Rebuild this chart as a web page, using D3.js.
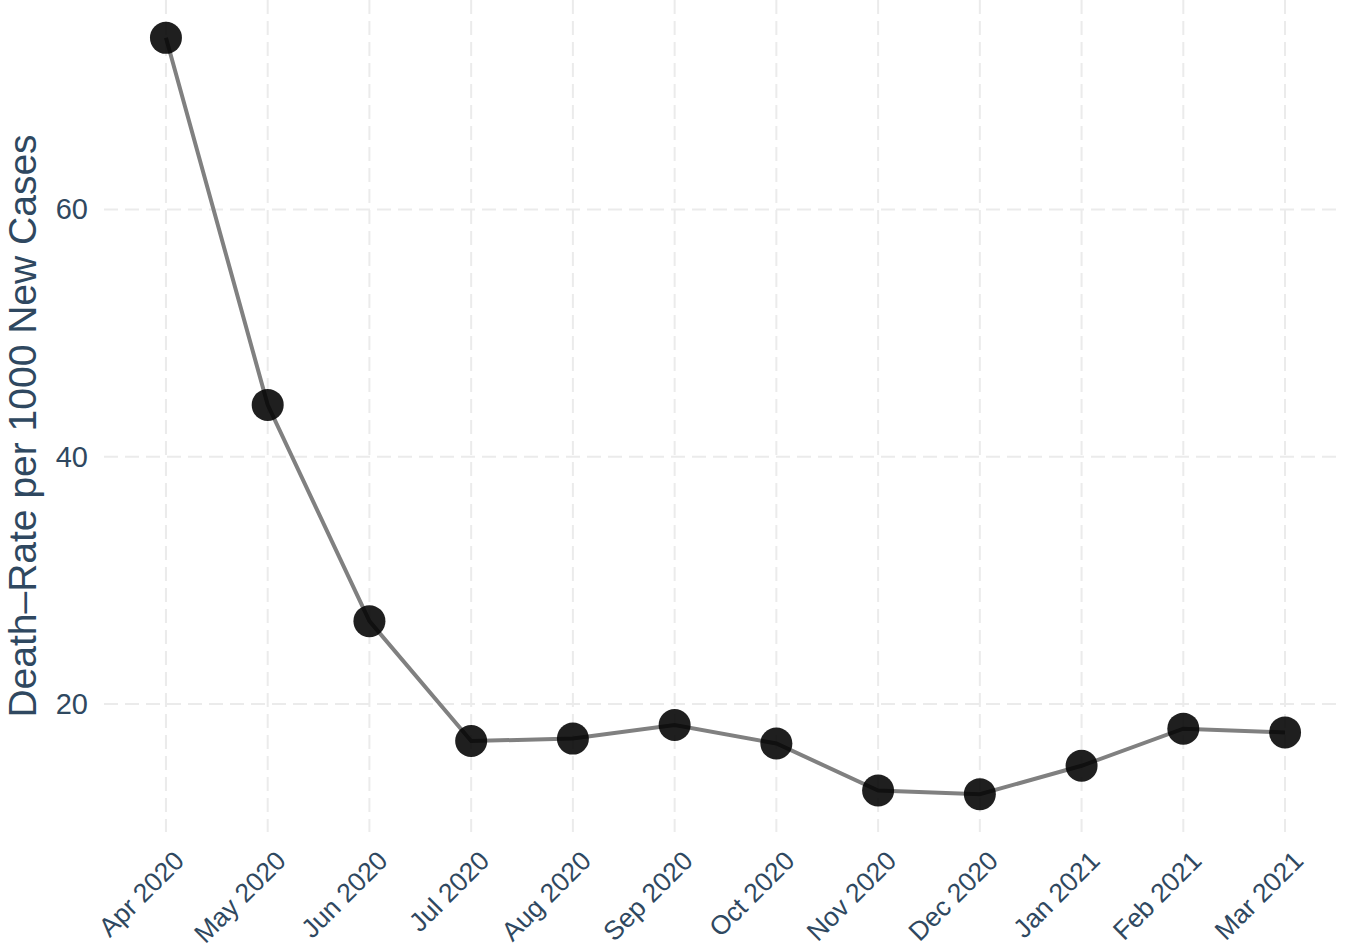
<!DOCTYPE html>
<html>
<head>
<meta charset="utf-8">
<script src="https://cdn.jsdelivr.net/npm/d3@7"></script>
<style>
  html, body { margin: 0; padding: 0; background: #ffffff; }
  svg { display: block; font-family: "Liberation Sans", Arial, Helvetica, sans-serif; }
</style>
</head>
<body>
<svg id="chart" width="1346" height="950"></svg>
<script>
const months = ["Apr 2020", "May 2020", "Jun 2020", "Jul 2020", "Aug 2020", "Sep 2020",
                "Oct 2020", "Nov 2020", "Dec 2020", "Jan 2021", "Feb 2021", "Mar 2021"];
const deathRate = [73.9, 44.2, 26.7, 17.0, 17.2, 18.3, 16.8, 13.0, 12.7, 15.0, 18.0, 17.7];
const yTicks = [20, 40, 60];
const yTitle = "Death\u2013Rate per 1000 New Cases";

const svg = d3.select("#chart");
const panel = { left: 110, right: 1341, top: 0, bottom: 832 };
const textColor = "#2f4860";

// ggplot-like 5% expansion on both sides
const span = (panel.right - panel.left) / 1.1;
const x = d3.scalePoint().domain(months)
  .range([panel.left + span * 0.05, panel.right - span * 0.05]).padding(0);

const yMin = d3.min(deathRate), yMax = d3.max(deathRate);
const pad = (yMax - yMin) * 0.05;
const y = d3.scaleLinear().domain([yMin - pad, yMax + pad]).range([panel.bottom, panel.top]);

// Grid lines
const grid = svg.append("g");
grid.selectAll("line.h").data(yTicks).enter().append("line")
  .attr("x1", panel.left - 6).attr("x2", panel.right)
  .attr("y1", d => y(d)).attr("y2", d => y(d))
  .attr("stroke", "#ebebeb").attr("stroke-width", 2).attr("stroke-dasharray", "14,7");
grid.selectAll("line.v").data(months).enter().append("line")
  .attr("x1", d => x(d)).attr("x2", d => x(d))
  .attr("y1", panel.top).attr("y2", panel.bottom)
  .attr("stroke", "#ebebeb").attr("stroke-width", 2).attr("stroke-dasharray", "14,7");

// Y axis labels
const yAxis = d3.axisLeft(y).tickValues(yTicks).tickSize(0).tickPadding(0);
const yg = svg.append("g").attr("transform", `translate(88,0)`).call(yAxis);
yg.select(".domain").remove();
yg.selectAll("text").attr("fill", textColor).style("font-size", "29px")
  .style("font-family", '"Liberation Sans", Arial, sans-serif');

// X axis labels
const xAxis = d3.axisBottom(x).tickSize(0).tickPadding(0);
const xg = svg.append("g").attr("transform", `translate(0,${panel.bottom})`).call(xAxis);
xg.select(".domain").remove();
xg.selectAll("text")
  .attr("fill", textColor).style("font-size", "26.5px")
  .style("font-family", '"Liberation Sans", Arial, sans-serif')
  .attr("text-anchor", "end")
  .attr("x", 0).attr("y", 0).attr("dy", "0.71em")
  .attr("transform", "translate(6,17) rotate(-45)");

// Y title
svg.append("text")
  .attr("transform", `translate(36,${(panel.top + panel.bottom) / 2 + 10}) rotate(-90)`)
  .attr("text-anchor", "middle")
  .attr("fill", textColor)
  .style("font-size", "39px")
  .text(yTitle);

// Line
const line = d3.line().x((d, i) => x(months[i])).y(d => y(d));
svg.append("path").datum(deathRate)
  .attr("d", line).attr("fill", "none")
  .attr("stroke", "#808080").attr("stroke-width", 4);

// Points
svg.selectAll("circle.pt").data(deathRate).enter().append("circle")
  .attr("cx", (d, i) => x(months[i])).attr("cy", d => y(d)).attr("r", 16)
  .attr("fill", "#000000").attr("fill-opacity", 0.88);
</script>
</body>
</html>
